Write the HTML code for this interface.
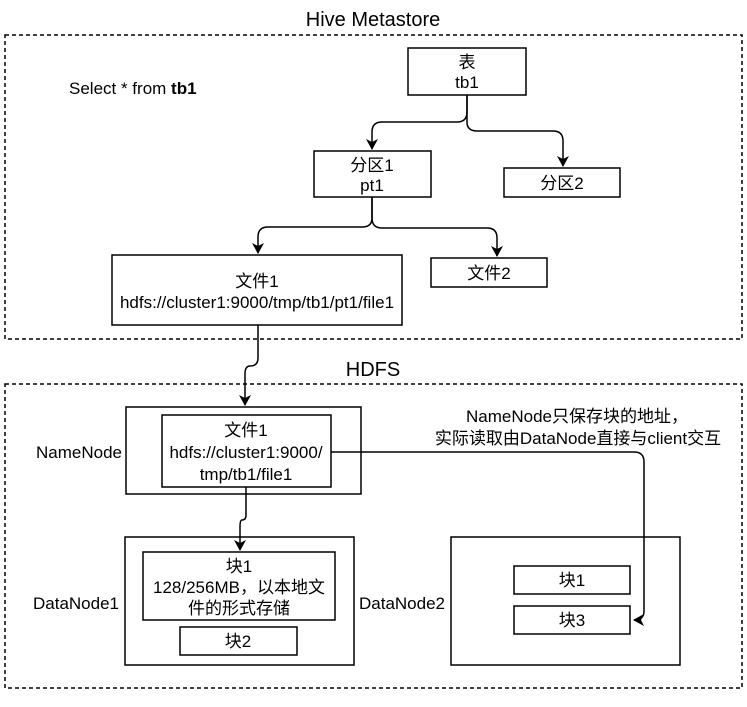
<!DOCTYPE html>
<html><head><meta charset="utf-8"><style>
body{margin:0;background:#fff;}
svg text{font-family:"Liberation Sans","Noto Sans CJK SC",sans-serif;font-size:17px;fill:#000;}
</style></head><body>
<svg width="747" height="702" viewBox="0 0 747 702" xmlns="http://www.w3.org/2000/svg">
<defs><marker id="a" markerWidth="12" markerHeight="12" refX="10" refY="6" orient="auto" markerUnits="userSpaceOnUse"><path d="M0,0 L11,6 L0,12 L3,6 z" fill="#000"/></marker></defs>
<g fill="none" stroke="#000" stroke-width="1.5">
<rect x="5" y="35" width="737" height="304" stroke-dasharray="4,3"/>
<rect x="5" y="384" width="737" height="304" stroke-dasharray="4,3"/>
<rect x="408" y="48" width="118" height="47"/>
<rect x="314" y="151" width="117" height="46"/>
<rect x="504" y="168" width="116" height="29"/>
<rect x="112" y="255" width="290" height="70"/>
<rect x="431" y="258" width="116" height="29"/>
<rect x="126" y="407" width="235" height="87"/>
<rect x="162" y="415" width="169" height="72"/>
<rect x="125" y="537" width="229" height="128"/>
<rect x="143" y="552" width="192" height="68"/>
<rect x="180" y="627" width="117" height="28"/>
<rect x="451" y="537" width="229" height="128"/>
<rect x="514" y="566" width="116" height="28"/>
<rect x="514" y="606" width="116" height="28"/>
<path d="M467,95 V112 Q467,122 457,122 H382 Q372,122 372,132 V149" marker-end="url(#a)"/>
<path d="M467,95 V122 Q467,131 477,131 H553 Q563,131 563,141 V166" marker-end="url(#a)"/>
<path d="M372,197 V218 Q372,227 362,227 H268 Q258,227 258,237 V253" marker-end="url(#a)"/>
<path d="M372,197 V218 Q372,228 382,228 H487 Q497,228 497,238 V256" marker-end="url(#a)"/>
<path d="M258,325 V358 Q258,366 250,366 Q245,366 245,374 V405" marker-end="url(#a)"/>
<path d="M246,487 V515 Q246,520 242,520 Q240,520 240,527 V550" marker-end="url(#a)"/>
<path d="M331,452 H634 Q644,452 644,462 V611 Q644,620 634,620" marker-end="url(#a)"/>
</g>
<text x="373" y="26" text-anchor="middle" style="font-size:20px">Hive Metastore</text>
<text x="373" y="376" text-anchor="middle" style="font-size:20px">HDFS</text>
<text x="69" y="94">Select * from <tspan font-weight="bold">tb1</tspan></text>
<text x="467" y="68" text-anchor="middle">表</text>
<text x="467" y="88" text-anchor="middle">tb1</text>
<text x="372" y="171" text-anchor="middle">分区1</text>
<text x="372" y="191" text-anchor="middle">pt1</text>
<text x="562" y="189" text-anchor="middle">分区2</text>
<text x="257" y="287" text-anchor="middle">文件1</text>
<text x="257" y="308" text-anchor="middle">hdfs://cluster1:9000/tmp/tb1/pt1/file1</text>
<text x="489" y="279" text-anchor="middle">文件2</text>
<text x="36" y="458">NameNode</text>
<text x="246" y="436" text-anchor="middle">文件1</text>
<text x="246" y="458" text-anchor="middle">hdfs://cluster1:9000/</text>
<text x="246" y="480" text-anchor="middle">tmp/tb1/file1</text>
<text x="577" y="422" text-anchor="middle">NameNode只保存块的地址，</text>
<text x="578" y="444" text-anchor="middle">实际读取由DataNode直接与client交互</text>
<text x="33" y="609">DataNode1</text>
<text x="359" y="609">DataNode2</text>
<text x="239" y="572" text-anchor="middle">块1</text>
<text x="239" y="593" text-anchor="middle">128/256MB，以本地文</text>
<text x="239" y="614" text-anchor="middle">件的形式存储</text>
<text x="238" y="647" text-anchor="middle">块2</text>
<text x="572" y="586" text-anchor="middle">块1</text>
<text x="572" y="626" text-anchor="middle">块3</text>
</svg>
</body></html>
